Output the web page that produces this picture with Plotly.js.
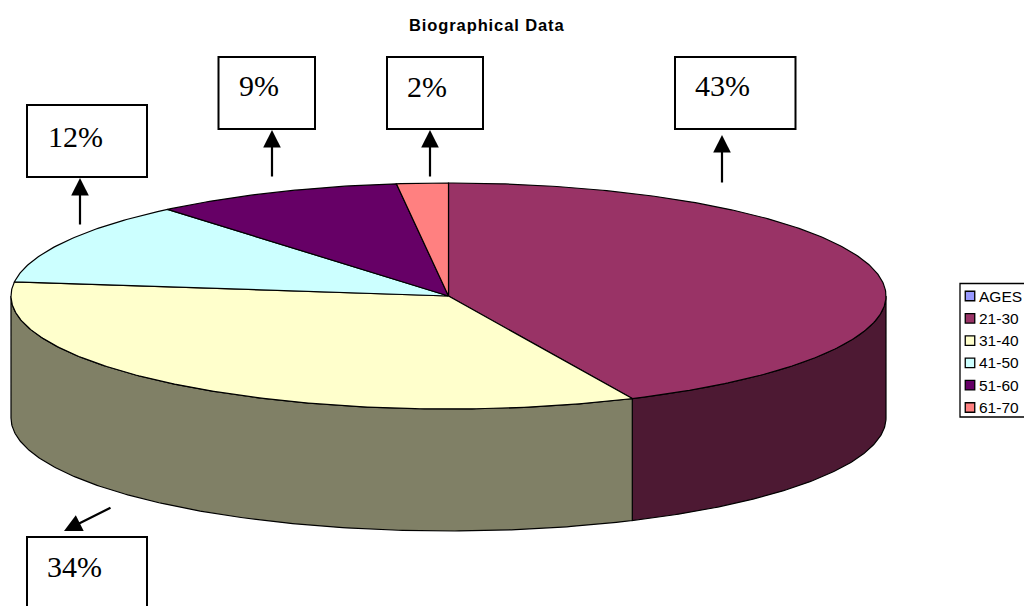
<!DOCTYPE html>
<html>
<head>
<meta charset="utf-8">
<script src="https://cdn.plot.ly/plotly-3.0.1.min.js"></script>
<style>html,body{margin:0;padding:0;background:#fff;overflow:hidden}#chart{width:1024px;height:606px}
.annotation-text[data-unformatted*="Biographical"]{letter-spacing:0.9px}</style>
</head>
<body>
<div id="chart"></div>
<script>
const titleText = 'Biographical Data';
const categories = ['AGES', '21-30', '31-40', '41-50', '51-60', '61-70'];
const shares = [0, 43.1, 33.9, 11.9, 9.2, 1.9];
const topColors = ['#9999FF', '#993366', '#FFFFCC', '#CCFFFF', '#660066', '#FF8080'];
const sideColors = ['#4D4D80', '#4D1933', '#808066', '#668080', '#330033', '#804040'];

// projection of the tilted pie on the page
const cx = 448.5, cy = 296, rx = 437.5, ry = 113, depth = 122;
const px = a => cx + rx * Math.sin(a);
const py = a => cy - ry * Math.cos(a);
const rad = pct => pct / 100 * 2 * Math.PI;

function arc(a0, a1) {
  const n = Math.max(2, Math.ceil((a1 - a0) / 0.01));
  const xs = [], ys = [];
  for (let i = 0; i <= n; i++) {
    const a = a0 + (a1 - a0) * i / n;
    xs.push(px(a)); ys.push(py(a));
  }
  return [xs, ys];
}

const traces = [];
let acc = 0;
const spans = shares.map(v => { const s = [acc, acc + v]; acc += v; return s; });

// side walls: only the part of the rim that faces the viewer (90deg to 270deg)
spans.forEach((s, i) => {
  const a0 = Math.max(rad(s[0]), Math.PI / 2), a1 = Math.min(rad(s[1]), 1.5 * Math.PI);
  if (a1 <= a0) return;
  const [xs, ys] = arc(a0, a1);
  const X = xs.concat(xs.slice().reverse(), [xs[0]]);
  const Y = ys.concat(ys.slice().reverse().map(y => y + depth), [ys[0]]);
  traces.push({x: X, y: Y, mode: 'lines', fill: 'toself', fillcolor: sideColors[i],
    line: {color: '#000', width: 1.2}, hoverinfo: 'skip', showlegend: false});
});

// top face slices
spans.forEach((s, i) => {
  if (s[1] <= s[0]) return;
  const [xs, ys] = arc(rad(s[0]), rad(s[1]));
  traces.push({x: [cx].concat(xs, [cx]), y: [cy].concat(ys, [cy]), mode: 'lines', fill: 'toself',
    fillcolor: topColors[i], line: {color: '#000', width: 1.2}, name: categories[i],
    hoverinfo: 'name', showlegend: false});
});

// legend
const legendX = 970, legendTextX = 976.5;
const legendY = [296, 318.3, 340.6, 362.9, 385.2, 407.5];
traces.push({x: legendY.map(() => legendX), y: legendY, mode: 'markers',
  marker: {symbol: 'square', size: 9.5, color: topColors, line: {color: '#000', width: 1.3}},
  hoverinfo: 'skip', showlegend: false});

// callouts
const calloutValues = ['43%', '34%', '12%', '9%', '2%'];
const boxes = [[675, 57, 795.5, 129], [27, 537, 147, 612], [27, 105, 147, 177], [218.5, 57, 315, 129], [387, 57, 483, 129]];
const labelPos = [[693, 85.5], [45, 566], [46, 136], [237, 85.5], [405, 86]];
const arrows = [[722, 184, 722, 135], [112, 507, 64, 531], [80, 226, 80, 178], [272, 178, 272, 130], [430, 178, 430, 130]];

const shapes = boxes.map(b => ({type: 'rect', xref: 'x', yref: 'y', x0: b[0], y0: b[1], x1: b[2], y1: b[3],
  line: {color: '#000', width: 2}, fillcolor: '#fff'}));
shapes.push({type: 'rect', xref: 'x', yref: 'y', x0: 960, y0: 283.5, x1: 1030, y1: 417,
  line: {color: '#000', width: 1.3}, fillcolor: '#fff', layer: 'below'});

const annotations = [];
annotations.push({text: '<b>' + titleText + '</b>', x: 487, y: 24.5, xref: 'x', yref: 'y', showarrow: false,
  font: {family: 'Liberation Sans', size: 16.5, color: '#000'}});
calloutValues.forEach((t, i) => annotations.push({text: t, x: labelPos[i][0], y: labelPos[i][1], xref: 'x', yref: 'y',
  xanchor: 'left', yanchor: 'middle', showarrow: false, font: {family: 'Liberation Serif', size: 30, color: '#000'}}));
arrows.forEach(a => annotations.push({text: '', x: a[2], y: a[3], ax: a[0], ay: a[1], xref: 'x', yref: 'y', axref: 'x', ayref: 'y',
  showarrow: true, arrowhead: 2, arrowsize: 1.6, arrowwidth: 2.2, arrowcolor: '#000', standoff: 0}));
categories.forEach((c, i) => annotations.push({text: c, x: legendTextX, y: legendY[i], xref: 'x', yref: 'y',
  xanchor: 'left', yanchor: 'middle', showarrow: false, font: {family: 'Liberation Sans', size: 15.5, color: '#000'}}));

const layout = {
  width: 1024, height: 606, margin: {l: 0, r: 0, t: 0, b: 0},
  paper_bgcolor: '#fff', plot_bgcolor: '#fff', showlegend: false,
  xaxis: {range: [0, 1024], visible: false, fixedrange: true},
  yaxis: {range: [606, 0], visible: false, fixedrange: true},
  shapes, annotations
};
Plotly.newPlot('chart', traces, layout, {displayModeBar: false, staticPlot: true});
</script>
</body>
</html>
